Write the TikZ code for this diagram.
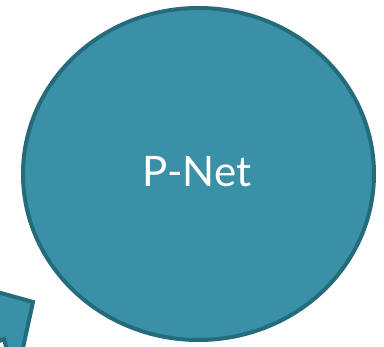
\documentclass[tikz,border=0pt]{standalone}
\usepackage{fontspec}
\setmainfont{Lato}
\usetikzlibrary{shapes.geometric}
\definecolor{tealfill}{HTML}{3A91A7}
\definecolor{tealedge}{HTML}{246B7B}
\tikzset{blob/.style={fill=tealfill,draw=tealedge,line width=4pt}}
\begin{document}
\begin{tikzpicture}[x=1pt,y=1pt]
\useasboundingbox (0,0) rectangle (384,347);
\clip (0,0) rectangle (384,347);
\node[blob,ellipse,minimum width=351pt,minimum height=332pt,inner sep=0pt] (pnet) at (198.5,173) {};
\node[text=white,font=\fontsize{42}{48}\selectfont] (lbl) at (197,175) {P-Net};
\draw[blob,line join=miter] (-10,57) -- (33,45) -- (21,-10) -- (9,-10) -- (4,8) -- (-10,2) -- cycle;
\end{tikzpicture}
\end{document}
